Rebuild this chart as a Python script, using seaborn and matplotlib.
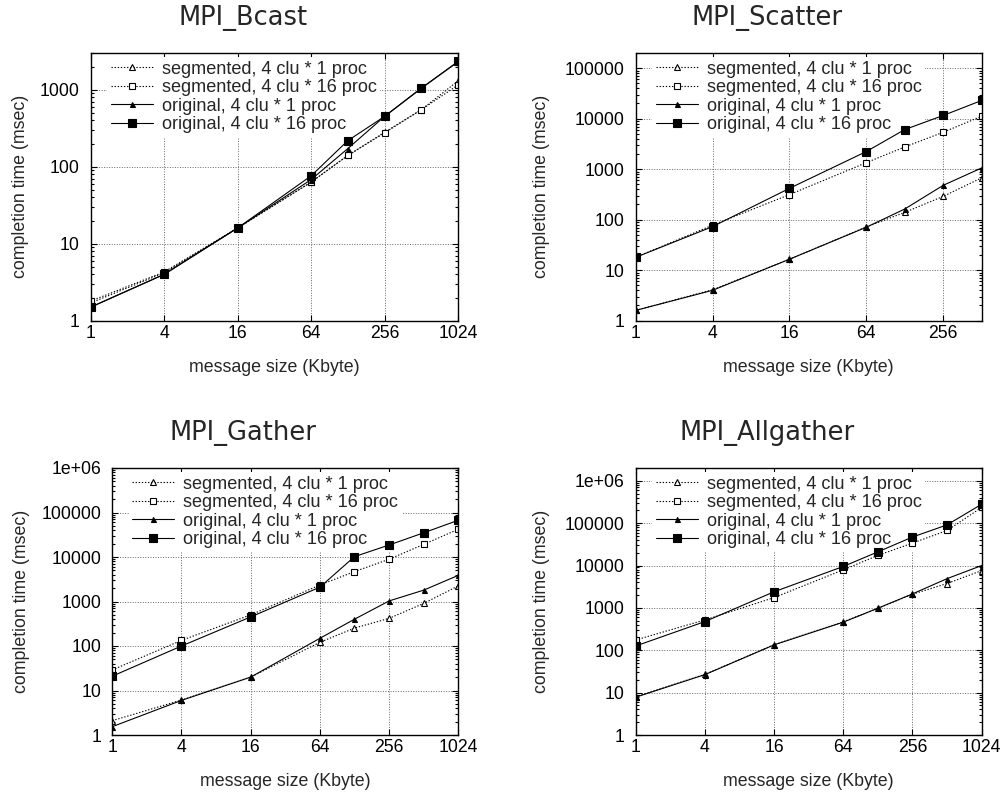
import numpy as np
import pandas as pd
import matplotlib
matplotlib.use("Agg")
import matplotlib.pyplot as plt
import seaborn as sns
from matplotlib.ticker import FixedLocator, FuncFormatter, LogLocator, NullLocator, NullFormatter

# ---------------- data ----------------
sizes_full = [1, 4, 16, 64, 128, 256, 512, 1024]
sizes_scatter = [1, 4, 16, 64, 128, 256, 512]
x_ticks = [1, 4, 16, 64, 256, 1024]

series_labels = ["segmented, 4 clu * 1 proc", "segmented, 4 clu * 16 proc",
                 "original, 4 clu * 1 proc", "original, 4 clu * 16 proc"]

bcast_seg1 = [1.7, 4.2, 16, 63, 140, 280, 550, 1300]
bcast_seg16 = [1.8, 4.3, 16, 63, 140, 275, 550, 1150]
bcast_orig1 = [1.5, 4.0, 16, 68, 172, 450, 1050, 2300]
bcast_orig16 = [1.5, 4.0, 16, 76, 218, 450, 1040, 2330]

scatter_seg1 = [1.6, 4.1, 16.5, 72, 140, 290, 675]
scatter_seg16 = [18, 78, 314, 1350, 2760, 5400, 11200]
scatter_orig1 = [1.6, 4.0, 16.5, 71, 163, 480, 1060]
scatter_orig16 = [18, 73, 418, 2240, 6100, 11600, 23000]

gather_seg1 = [2.1, 6.1, 20, 121, 253, 418, 906, 2240]
gather_seg16 = [29, 134, 500, 2350, 4700, 8900, 19200, 42000]
gather_orig1 = [1.54, 6.0, 20, 149, 400, 1030, 1800, 3870]
gather_orig16 = [21, 100, 450, 2100, 10200, 18600, 35000, 67000]

allg_seg1 = [8, 27, 135, 470, 980, 2100, 3760, 7600]
allg_seg16 = [175, 520, 1750, 7900, 17300, 33800, 67000, 235000]
allg_orig1 = [7.8, 26.6, 134, 460, 980, 2140, 4900, 10000]
allg_orig16 = [126, 475, 2400, 9500, 21000, 47000, 91000, 280000]

titles = ["MPI_Bcast", "MPI_Scatter", "MPI_Gather", "MPI_Allgather"]
xlabel = "message size (Kbyte)"
ylabel = "completion time (msec)"

# ---------------- style ----------------
sns.set_style("ticks")
plt.rcParams['font.family'] = ['Liberation Sans', 'DejaVu Sans']
plt.rcParams['axes.linewidth'] = 1.0

W, H = 1003, 794
fig = plt.figure(figsize=(W / 100, H / 100), dpi=100)

# panel geometry in pixels: left, top, right, bottom
panels = [
    dict(box=(90.7, 53, 458, 320.7), x=sizes_full, xlim=(1, 1024), ylim=(1, 3000),
         ys=[bcast_seg1, bcast_seg16, bcast_orig1, bcast_orig16], title_xy=(243, 18)),
    dict(box=(635.7, 53, 981.7, 320.7), x=sizes_scatter, xlim=(1, 512), ylim=(1, 2e5),
         ys=[scatter_seg1, scatter_seg16, scatter_orig1, scatter_orig16], title_xy=(767, 18)),
    dict(box=(112.3, 468, 458.3, 735), x=sizes_full, xlim=(1, 1024), ylim=(1, 1e6),
         ys=[gather_seg1, gather_seg16, gather_orig1, gather_orig16], title_xy=(243, 433)),
    dict(box=(635.7, 468, 981.7, 735), x=sizes_full, xlim=(1, 1024), ylim=(1, 2e6),
         ys=[allg_seg1, allg_seg16, allg_orig1, allg_orig16], title_xy=(767, 433)),
]

dotted = (0, (1.2, 1.6))
styles = [
    dict(marker='^', linestyle=dotted, markerfacecolor='white', markersize=4.2),
    dict(marker='s', linestyle=dotted, markerfacecolor='white', markersize=4.5),
    dict(marker='^', linestyle='-', markerfacecolor='black', markersize=3.6),
    dict(marker='s', linestyle='-', markerfacecolor='black', markersize=5.5),
]

def yfmt(v, pos):
    if v >= 1e6 - 1:
        return "1e+06"
    return f"{int(round(v))}"

for p, title in zip(panels, titles):
    l, t, r, b = p['box']
    ax = fig.add_axes([l / W, 1 - b / H, (r - l) / W, (b - t) / H])
    ax.set_axisbelow(True)
    ax.set_xscale('log', base=2)
    ax.set_yscale('log')
    ax.set_xlim(*p['xlim'])
    ax.set_ylim(*p['ylim'])

    for label, y, st in zip(series_labels, p['ys'], styles):
        df = pd.DataFrame({"size": p['x'], "time": y})
        sns.lineplot(data=df, x="size", y="time", ax=ax, label=label,
                     color='black', linewidth=0.8, markeredgecolor='black',
                     markeredgewidth=0.8, errorbar=None, zorder=3, **st)

    ax.xaxis.set_major_locator(FixedLocator([v for v in x_ticks if v <= p['xlim'][1]]))
    ax.xaxis.set_major_formatter(FuncFormatter(lambda v, pos: f"{int(round(v))}"))
    ax.xaxis.set_minor_locator(NullLocator())
    ax.yaxis.set_major_locator(LogLocator(base=10, numticks=10))
    ax.yaxis.set_minor_locator(LogLocator(base=10, subs=np.arange(2, 10), numticks=20))
    ax.yaxis.set_major_formatter(FuncFormatter(yfmt))
    ax.yaxis.set_minor_formatter(NullFormatter())

    ax.tick_params(which='both', direction='in', top=True, right=True, colors='black',
                   width=0.8, labelsize=12.7)
    ax.tick_params(which='major', length=4.5)
    ax.tick_params(which='minor', length=2.5)
    ax.tick_params(axis='y', pad=8)
    ax.tick_params(axis='x', pad=3)

    ax.grid(True, which='major', color='#666666', linestyle=(0, (1, 1.6)), linewidth=0.7)
    for s in ax.spines.values():
        s.set_visible(True)
        s.set_color('black')
        s.set_zorder(4)

    axw = r - l
    axh = b - t
    ax.set_xlabel(xlabel, fontsize=12.8, va='center')
    ax.set_ylabel(ylabel, fontsize=12.8, va='center', ha='center')
    ax.xaxis.set_label_coords(0.5, -46.5 / axh)
    ylab_off = 70 if title == "MPI_Bcast" else (90.6 if title == "MPI_Gather" else 94)
    ax.yaxis.set_label_coords(-ylab_off / axw, 0.5)

    leg = ax.legend(loc='upper left', bbox_to_anchor=(16.5 / axw, 1.0 - 4 / axh),
                    fontsize=13.1, frameon=True, fancybox=False, framealpha=1,
                    facecolor='white', edgecolor='none', borderpad=0.2,
                    borderaxespad=0, handlelength=2.3, handletextpad=0.5,
                    labelspacing=0.08)
    leg.set_zorder(2)

    tx, ty = p['title_xy']
    fig.text(tx / W, 1 - ty / H, title, fontsize=18.5, family='DejaVu Sans',
             ha='center', va='center')

fig.savefig("out.png", dpi=100)
